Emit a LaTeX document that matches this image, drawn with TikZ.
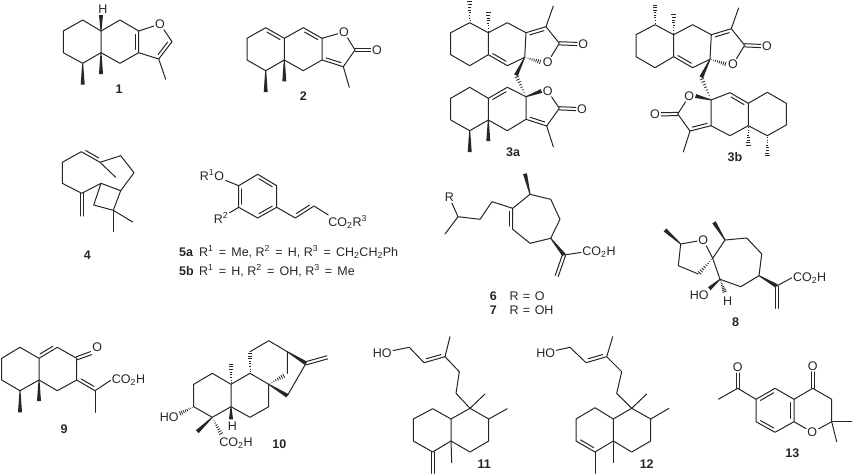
\documentclass[tikz,border=0pt]{standalone}
\usepackage{fontspec}
\setmainfont{Liberation Sans}
\usetikzlibrary{calc}

% Bond macros: a--b is a bold or hashed stereo bond, narrow at a
\newcommand{\setatoms}[2]{\foreach \n/\x/\y in {#2} \coordinate (#1\n) at (\x,\y);}
\newcommand{\innerbond}[3]{\draw[bond] ($(#1)!.15!(#2)!#3!90:(#2)$) -- ($(#2)!.15!(#1)!#3!-90:(#1)$);}
\newcommand{\twinbond}[2]{\draw[bond] ($(#1)!1.6pt!90:(#2)$) -- ($(#2)!1.6pt!-90:(#1)$);
  \draw[bond] ($(#1)!1.6pt!-90:(#2)$) -- ($(#2)!1.6pt!90:(#1)$);}
\newcommand{\wedgebond}[2]{\fill[ink] ($(#1)!.5pt!90:(#2)$) -- ($(#2)!2pt!-90:(#1)$) -- ($(#2)!2pt!90:(#1)$) -- ($(#1)!.5pt!-90:(#2)$) -- cycle;}
\newcommand{\hashbond}[2]{\foreach \t in {.08,.2,.32,.44,.56,.68,.8,.92}{
    \pgfmathsetmacro{\w}{2.4*\t}
    \draw[ink, line width=.8pt] ($(#1)!\t!(#2)!\w pt!90:(#2)$) -- ($(#1)!\t!(#2)!\w pt!-90:(#2)$);}}
\newcommand{\eqsign}{\hspace{.42em}=\hspace{.42em}}

\colorlet{ink}{black!85}

\begin{document}
\begin{tikzpicture}[x=1pt, y=-1pt,
    bond/.style={draw=ink, line width=1pt, line join=round, line cap=round},
    atom/.style={text=ink, inner sep=1.2pt, font=\fontsize{12.5}{14}\selectfont},
    numlabel/.style={text=ink, inner sep=0pt, font=\fontsize{12.5}{14}\selectfont\bfseries}]
    \useasboundingbox (0,0) rectangle (853,474);

    % Compound 1
    \setatoms{a}{1/63.3/31, 2/82.7/20, 3/101/31, 4/101/52.7, 5/82.7/63.3, 6/63.3/52.7,
      7/120/20, 8/138.7/31, 9/138.7/52.7, 10/120/63.3, 11/172/41.7, 12/158.7/59,
      13/165.7/79.3, 14/101/15, 15/101/74, 16/82.7/84.7}
    \node[atom] (aO) at (160,24) {O};
    \node[atom] (aH) at (103,9) {H};
    \draw[bond] (a3) -- (a2) -- (a1) -- (a6) -- (a5) -- (a4) -- (a3) -- (a7) -- (a8) -- (a9) -- (a10) -- (a4);
    \draw[bond] (a8) -- (aO) -- (a11) -- (a12) -- (a9);
    \draw[bond] (a12) -- (a13);
    \innerbond{a8}{a9}{-3.2pt}
    \innerbond{a11}{a12}{-3.2pt}
    \wedgebond{a3}{a14}
    \wedgebond{a4}{a15}
    \wedgebond{a5}{a16}
    \node[numlabel] (lab1) at (119,89.5) {1};

    % Compound 2
    \setatoms{b}{1/247/38.3, 2/265.7/27.7, 3/284.3/38.3, 4/284.3/60, 5/265.7/70.7, 6/247/60,
      7/303.3/27.7, 8/322/38.3, 9/322/60, 10/303.3/70.7, 11/355/50, 12/343.3/66.7,
      13/349.3/87.3, 14/284.3/81.3, 15/265.7/92}
    \node[atom] (bO) at (344,32) {O};
    \node[atom] (bO2) at (377,50) {O};
    \draw[bond] (b3) -- (b2) -- (b1) -- (b6) -- (b5) -- (b4) -- (b3) -- (b7) -- (b8) -- (b9) -- (b10) -- (b4);
    \draw[bond] (b8) -- (bO) -- (b11) -- (b12) -- (b9);
    \draw[bond] (b12) -- (b13);
    \innerbond{b2}{b3}{-3.2pt}
    \innerbond{b7}{b8}{-3.2pt}
    \innerbond{b9}{b12}{3.2pt}
    \twinbond{b11}{bO2.west}
    \wedgebond{b4}{b14}
    \wedgebond{b5}{b15}
    \node[numlabel] (lab2) at (303.3,96) {2};

    % Compound 3a
    \setatoms{c}{1/450.7/32.7, 2/469.7/22.7, 3/488.3/32.7, 4/488.3/54.7, 5/469.7/65.7, 6/450.7/54.7,
      7/507.3/22.7, 8/526/32.7, 9/524.7/57.3, 10/507.3/65.7, 11/546/26.7, 12/553.3/6, 13/559.3/43.3,
      14/469.7/0, 15/488.3/11, 16/516/75.3,
      21/450.7/98.3, 22/469.7/87.3, 23/488.3/98.3, 24/488.3/120, 25/469.7/130.7, 26/450.7/120,
      27/507.3/87.3, 28/526/96.7, 29/526/119.3, 30/507.3/130.7, 31/559.3/108.3, 32/546.7/126,
      33/553.3/146.7, 34/488.3/141, 35/469.7/152}
    \node[atom] (cO) at (547.7,62.3) {O};
    \node[atom] (cO2) at (583.3,44) {O};
    \node[atom] (cO3) at (547.7,91) {O};
    \node[atom] (cO4) at (582,109) {O};
    \draw[bond] (c3) -- (c2) -- (c1) -- (c6) -- (c5) -- (c4) -- (c3) -- (c7) -- (c8) -- (c9) -- (c10) -- (c4);
    \draw[bond] (c8) -- (c11) -- (c13) -- (cO);
    \draw[bond] (c11) -- (c12);
    \innerbond{c8}{c11}{-3.2pt}
    \innerbond{c4}{c10}{3.2pt}
    \twinbond{c13}{cO2.west}
    \hashbond{c2}{c14}
    \hashbond{c3}{c15}
    \hashbond{c9}{cO.west}
    \wedgebond{c9}{c16}
    \hashbond{c28}{c16}
    \draw[bond] (c23) -- (c22) -- (c21) -- (c26) -- (c25) -- (c24) -- (c23) -- (c27) -- (c28) -- (c29) -- (c30) -- (c24);
    \draw[bond] (cO3) -- (c31) -- (c32) -- (c29);
    \draw[bond] (c32) -- (c33);
    \innerbond{c23}{c27}{-3.2pt}
    \innerbond{c29}{c32}{3.2pt}
    \twinbond{c31}{cO4.west}
    \wedgebond{c28}{cO3.west}
    \wedgebond{c24}{c34}
    \wedgebond{c25}{c35}
    \node[numlabel] (lab3a) at (513,152.3) {3a};

    % Compound 3b
    \setatoms{d}{1/636/34.7, 2/655/24.7, 3/673.6/34.7, 4/673.6/56.7, 5/655/67.7, 6/636/56.7,
      7/692.6/24.7, 8/711.3/34.7, 9/710/59.3, 10/692.6/67.7, 11/731.3/28.7, 12/738.6/8, 13/744.6/45.3,
      14/655/3.3, 15/673.6/13, 16/701.3/77.3,
      21/711/100, 22/677.7/114, 23/690/131, 24/683.3/152, 25/711/125.7, 26/730/135.7,
      27/748.3/125.7, 28/748.3/103.3, 29/730/92.7, 30/767.3/92.3, 31/786.3/103.3, 32/786.3/125,
      33/767.3/135.7, 34/748.3/146.7, 35/767.3/157.3}
    \node[atom] (dO) at (733,64.3) {O};
    \node[atom] (dO2) at (767,46) {O};
    \node[atom] (dO3) at (689.3,96) {O};
    \node[atom] (dO4) at (655,114.3) {O};
    \draw[bond] (d3) -- (d2) -- (d1) -- (d6) -- (d5) -- (d4) -- (d3) -- (d7) -- (d8) -- (d9) -- (d10) -- (d4);
    \draw[bond] (d8) -- (d11) -- (d13) -- (dO);
    \draw[bond] (d11) -- (d12);
    \innerbond{d8}{d11}{-3.2pt}
    \innerbond{d4}{d10}{3.2pt}
    \twinbond{d13}{dO2.west}
    \hashbond{d2}{d14}
    \hashbond{d3}{d15}
    \hashbond{d9}{dO.west}
    \wedgebond{d9}{d16}
    \hashbond{d21}{d16}
    \draw[bond] (d21) -- (d29) -- (d28) -- (d27) -- (d26) -- (d25) -- (d21);
    \draw[bond] (d28) -- (d30) -- (d31) -- (d32) -- (d33) -- (d27);
    \draw[bond] (d25) -- (d23) -- (d22) -- (dO3);
    \draw[bond] (d23) -- (d24);
    \innerbond{d29}{d28}{-3.2pt}
    \innerbond{d25}{d23}{-3.2pt}
    \twinbond{d22}{dO4.east}
    \wedgebond{d21}{dO3.east}
    \hashbond{d27}{d34}
    \hashbond{d33}{d35}
    \node[numlabel] (lab3b) at (735,157.3) {3b};

    % Compound 4
    \setatoms{e}{1/62.3/162.3, 2/81.3/151.7, 3/100/162.3, 4/120.7/155.7, 5/134/172.7, 6/120.7/190.7,
      7/101/183.3, 8/81.7/193.3, 9/62.3/183.3, 10/115.7/177.3, 11/113.3/210.3, 12/93.7/205,
      13/132.7/222, 14/113.3/231.7, 15/81.7/216}
    \draw[bond] (e2) -- (e1) -- (e9) -- (e8) -- (e7) -- (e6) -- (e5) -- (e4) -- (e3) -- (e2);
    \draw[bond] (e3) -- (e10);
    \draw[bond] (e7) -- (e12) -- (e11) -- (e6);
    \draw[bond] (e11) -- (e13);
    \draw[bond] (e11) -- (e14);
    \innerbond{e2}{e3}{3.2pt}
    \twinbond{e8}{e15}
    \node[numlabel] (lab4) at (87.3,255.3) {4};

    % Compound 5
    \setatoms{f}{1/238.7/185.7, 2/257.7/174.3, 3/276.7/185.7, 4/276.7/207.3, 5/257.7/218, 6/238.7/207.3,
      7/295.3/218, 8/314/206, 9/328.3/215}
    \node[atom, anchor=base] (fOR) at (212,180) {R\textsuperscript{1}O};
    \node[atom, anchor=base] (fR) at (221,223.2) {R\textsuperscript{2}};
    \node[atom, anchor=base west] (fCO) at (327,226.2) {CO\textsubscript{2}R\textsuperscript{3}};
    \draw[bond] (f1) -- (f2) -- (f3) -- (f4) -- (f5) -- (f6) -- (f1);
    \draw[bond] (fOR) -- (f1);
    \draw[bond] (fR) -- (f6);
    \draw[bond] (f4) -- (f7) -- (f8) -- (f9);
    \innerbond{f2}{f3}{-3.2pt}
    \innerbond{f4}{f5}{-3.2pt}
    \innerbond{f6}{f1}{-3.2pt}
    \innerbond{f7}{f8}{3.2pt}
    \node[numlabel, anchor=base west] (lab5a) at (179,256.2) {5a};
    \node[atom, anchor=base west, inner sep=0pt] (text5a) at (199,256.2) {R\textsuperscript{1}\eqsign Me, R\textsuperscript{2}\eqsign H, R\textsuperscript{3}\eqsign CH\textsubscript{2}CH\textsubscript{2}Ph};
    \node[numlabel, anchor=base west] (lab5b) at (179,275.2) {5b};
    \node[atom, anchor=base west, inner sep=0pt] (text5b) at (199,275.2) {R\textsuperscript{1}\eqsign H, R\textsuperscript{2}\eqsign OH, R\textsuperscript{3}\eqsign Me};

    % Compounds 6 and 7
    \setatoms{g}{1/458/216.7, 2/480/219.3, 3/492/201.7, 4/512.7/208.3, 5/512.7/229.3, 6/530/243.3,
      7/550.7/238.3, 8/560/219.3, 9/550.7/199.3, 10/530/194.3, 11/445/234, 12/525/173.7,
      13/564/255, 14/556.7/276}
    \node[atom] (gR) at (449.3,197.3) {R};
    \node[atom, anchor=base west] (gCO) at (581,255.8) {CO\textsubscript{2}H};
    \draw[bond] (gR) -- (g1) -- (g2) -- (g3) -- (g4) -- (g5) -- (g6) -- (g7) -- (g8) -- (g9) -- (g10) -- (g4);
    \draw[bond] (g1) -- (g11);
    \draw[bond] (g13) -- (gCO.west);
    \innerbond{g4}{g5}{-3.2pt}
    \twinbond{g13}{g14}
    \wedgebond{g10}{g12}
    \wedgebond{g7}{g13}
    \node[numlabel] (lab6) at (493.3,296) {6};
    \node[atom, anchor=west, inner sep=0pt] (text6) at (509.3,296) {R\hspace{1pt} = \hspace{1pt}O};
    \node[numlabel] (lab7) at (493.3,310.3) {7};
    \node[atom, anchor=west, inner sep=0pt] (text7) at (509.3,310.3) {R\hspace{1pt} = \hspace{1pt}OH};

    % Compound 8
    \setatoms{h}{1/665/230, 2/680.7/244, 3/712.7/258.3, 4/698.3/274, 5/678.3/265.7, 6/725/240,
      7/746.7/238, 8/761.7/254, 9/759/275.7, 10/740.7/286.7, 11/720/279.3, 12/714/222.3,
      13/776.7/286, 14/776.7/308.3, 15/709.3/288.7, 16/725/292.7}
    \node[atom] (hO) at (703.3,240) {O};
    \node[atom] (hHO) at (699.3,295.3) {HO};
    \node[atom] (hH) at (727.7,300.7) {H};
    \node[atom, anchor=base west] (hCO) at (791.7,281.2) {CO\textsubscript{2}H};
    \draw[bond] (h2) -- (hO) -- (h3) -- (h6) -- (h7) -- (h8) -- (h9) -- (h10) -- (h11) -- (h3);
    \draw[bond] (h2) -- (h5) -- (h4);
    \draw[bond] (h13) -- (hCO.west);
    \twinbond{h13}{h14}
    \wedgebond{h2}{h1}
    \wedgebond{h6}{h12}
    \wedgebond{h9}{h13}
    \wedgebond{h11}{h15}
    \hashbond{h3}{h4}
    \hashbond{h11}{h16}
    \node[numlabel] (lab8) at (735.7,322.3) {8};

    % Compound 9
    \setatoms{i}{1/1.7/358.3, 2/20/347.3, 3/39/358.3, 4/39/380, 5/20/390.7, 6/1.7/380,
      7/57.3/347.3, 8/76.7/358.3, 9/76.7/380, 10/57.3/390.7, 11/95/390.7, 12/95/412.3,
      13/39/401, 14/20/412.3}
    \node[atom] (iO) at (97.3,347.3) {O};
    \node[atom, anchor=base west] (iCO) at (110.5,383.8) {CO\textsubscript{2}H};
    \draw[bond] (i3) -- (i2) -- (i1) -- (i6) -- (i5) -- (i4) -- (i3) -- (i7) -- (i8) -- (i9) -- (i10) -- (i4);
    \draw[bond] (i11) -- (i12);
    \draw[bond] (i11) -- (iCO.west);
    \draw[bond] (i9) -- (i11);
    \innerbond{i3}{i7}{3.2pt}
    \innerbond{i9}{i11}{3.2pt}
    \twinbond{i8}{iO.south west}
    \wedgebond{i4}{i13}
    \wedgebond{i5}{i14}
    \node[numlabel] (lab9) at (64,428.7) {9};

    % Compound 10
    \setatoms{j}{1/193.7/384.3, 2/212.3/373.3, 3/231/384.3, 4/231/406.7, 5/212.3/417.3, 6/193.7/406.7,
      7/250/373.3, 8/268.7/384.3, 9/268.7/406.7, 10/250/417.3, 11/250/351.7, 12/268.7/340.7,
      13/287.3/351.7, 14/287.3/373.3, 15/285/375, 16/306/363.3, 17/287.3/395.7, 18/327.3/357.3,
      19/231/362.3, 20/231/419.3, 21/197.3/431.7, 22/221.7/435, 23/179/414}
    \node[atom] (jH) at (232.3,426) {H};
    \node[atom] (jHO) at (169.3,417.3) {HO};
    \node[atom, anchor=base west] (jCO) at (218,446.2) {CO\textsubscript{2}H};
    \draw[bond] (j3) -- (j2) -- (j1) -- (j6) -- (j5) -- (j4) -- (j3) -- (j7) -- (j8) -- (j9) -- (j10) -- (j4);
    \draw[bond] (j11) -- (j12) -- (j13) -- (j14);
    \draw[bond] (j16) -- (j17);
    \twinbond{j16}{j18}
    \hashbond{j7}{j11}
    \hashbond{j8}{j15}
    \wedgebond{j13}{j16}
    \wedgebond{j8}{j17}
    \hashbond{j3}{j19}
    \wedgebond{j4}{j20}
    \wedgebond{j5}{j21}
    \hashbond{j5}{j22}
    \hashbond{j6}{j23}
    \node[numlabel] (lab10) at (279.3,444.3) {10};

    % Compound 11
    \setatoms{k}{1/409.3/347.3, 2/424/362.7, 3/445/356.7, 4/450/336.7, 5/459.3/371.7, 6/456/393.3,
      7/470/408.3, 8/485/394, 9/488.7/419, 10/507.3/408.7, 11/488.7/441, 12/470/452, 13/451/441,
      14/451/419, 15/432.7/408.7, 16/413.3/419, 17/413.3/441, 18/432.7/452, 19/451.7/462.7, 20/432.7/473.3}
    \node[atom] (kHO) at (382.3,352.7) {HO};
    \draw[bond] (kHO) -- (k1) -- (k2) -- (k3) -- (k5) -- (k6) -- (k7) -- (k9) -- (k11) -- (k12) -- (k13) -- (k14) -- (k7);
    \draw[bond] (k14) -- (k15) -- (k16) -- (k17) -- (k18) -- (k13);
    \draw[bond] (k3) -- (k4);
    \draw[bond] (k7) -- (k8);
    \draw[bond] (k9) -- (k10);
    \draw[bond] (k13) -- (k19);
    \innerbond{k2}{k3}{3.2pt}
    \twinbond{k18}{k20}
    \node[numlabel] (lab11) at (484.3,464.3) {11};

    % Compound 12
    \setatoms{l}{1/570/347.3, 2/586/362.7, 3/606.7/356.7, 4/612.7/336.7, 5/621.7/371.7, 6/616.7/393.3,
      7/631.7/408.3, 8/646.7/394, 9/650.7/419, 10/669/408.3, 11/650.7/441, 12/631.7/452, 13/613.3/441,
      14/613.3/419, 15/595/407.7, 16/576/419, 17/576/441, 18/595/452, 19/613.3/462.7, 20/595/473.3}
    \node[atom] (lHO) at (545.7,352.7) {HO};
    \draw[bond] (lHO) -- (l1) -- (l2) -- (l3) -- (l5) -- (l6) -- (l7) -- (l9) -- (l11) -- (l12) -- (l13) -- (l14) -- (l7);
    \draw[bond] (l14) -- (l15) -- (l16) -- (l17) -- (l18) -- (l13);
    \draw[bond] (l3) -- (l4);
    \draw[bond] (l7) -- (l8);
    \draw[bond] (l9) -- (l10);
    \draw[bond] (l13) -- (l19);
    \draw[bond] (l18) -- (l20);
    \innerbond{l2}{l3}{3.2pt}
    \innerbond{l17}{l18}{3.2pt}
    \node[numlabel] (lab12) at (646.7,464.3) {12};

    % Compound 13
    \setatoms{m}{1/737.7/388.3, 2/718.3/399.3, 3/756/399.3, 4/775/388.3, 5/794/399.3, 6/794/421.7,
      7/775/432.3, 8/756/421.7, 9/812.7/388.3, 10/831.7/399.3, 11/831.7/421.7, 12/851.7/421.7, 13/836.7/441.7}
    \node[atom] (mO) at (737.7,367.3) {O};
    \node[atom] (mO2) at (812.7,366) {O};
    \node[atom] (mO3) at (812.3,432.3) {O};
    \draw[bond] (m2) -- (m1) -- (m3) -- (m4) -- (m5) -- (m6) -- (m7) -- (m8) -- (m3);
    \draw[bond] (m5) -- (m9) -- (m10) -- (m11) -- (mO3) -- (m6);
    \draw[bond] (m11) -- (m12);
    \draw[bond] (m11) -- (m13);
    \twinbond{m1}{mO.south}
    \twinbond{m9}{mO2.south}
    \innerbond{m3}{m4}{-3.2pt}
    \innerbond{m5}{m6}{-3.2pt}
    \innerbond{m7}{m8}{-3.2pt}
    \node[numlabel] (lab13) at (792.3,453.3) {13};
\end{tikzpicture}
\end{document}
